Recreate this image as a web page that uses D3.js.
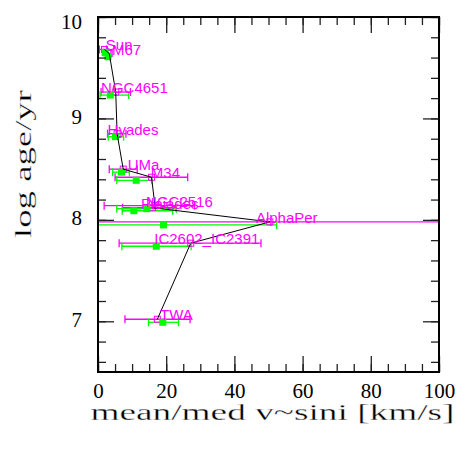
<!DOCTYPE html>
<html><head><meta charset="utf-8">
<script src="https://cdn.jsdelivr.net/npm/d3@7/dist/d3.min.js"></script>
<style>body{margin:0;background:#fff}</style>
</head><body>
<script>
// ---- data ----
const clusters = ["Sun","M67","NGC4651","Hyades","UMa","M34","NGC2516","Pleiades","AlphaPer","IC2602_IC2391","TWA"];
const logAge   = [9.65, 9.61, 9.23, 8.82, 8.47, 8.39, 8.11, 8.09, 7.95, 7.74, 6.99];
const medV     = [2.1, 2.9, 3.6, 5.1, 6.9, 11.2, 14.3, 10.5, 19.2, 17.1, 19.0];
const medLo    = [1.6, 2.4, 0.6, 3.0, 4.3, 5.5, 5.5, 7.1, -2, 7.0, 14.8];
const medHi    = [2.6, 3.4, 9.0, 7.5, 9.2, 15.8, 23.0, 21.9, 52.4, 27.3, 23.6];
const meanV    = [1.9, 3.3, 5.2, 5.6, 7.4, 15.7, 16.7, 16.0, 50.4, 27.2, 17.4];
const meanLo   = [0.4, 2.8, 0.9, 2.8, 3.3, 5.0, 1.8, 7.2, -10, 6.2, 7.9];
const meanHi   = [2.5, 3.8, 9.5, 8.2, 11.5, 26.3, 28.3, 22.9, 110, 47.8, 27.0];
const labelV   = [2.3, 4.1, 0.9, 2.8, 8.7, 15.5, 14.1, 12.6, 46.3, 16.5, 18.2];
const meanAgeShift = 0.03;
const xMajor = [0, 20, 40, 60, 80, 100];
const yMajor = [7, 8, 9, 10];
const xTitle = "mean/med v~sini [km/s]";
const yTitle = "log age/yr";

// ---- layout ----
const W = 467, H = 452;
const L = 98, R = 439, T = 17, B = 372;
const x = d3.scaleLinear().domain([0, 100]).range([L, R]);
const y = d3.scaleLinear().domain([6.5, 10]).range([B, T]);
const xMinor = d3.range(0, 100.001, 5);
const yMinor = d3.range(6.6, 10.001, 0.2).map(v => +v.toFixed(1));

const svg = d3.select("body").append("svg").attr("width", W).attr("height", H);
svg.append("defs").append("clipPath").attr("id", "clip")
  .append("rect").attr("x", L).attr("y", T).attr("width", R - L).attr("height", B - T);

const rows = clusters.map((c, i) => ({
  name: c, age: logAge[i], mAge: logAge[i] + meanAgeShift,
  med: medV[i], mlo: medLo[i], mhi: medHi[i],
  mean: meanV[i], elo: meanLo[i], ehi: meanHi[i], lab: labelV[i]
}));

const plot = svg.append("g").attr("clip-path", "url(#clip)");
const cap = 4;
function errbars(g, lo, hi, ykey, color) {
  const gg = g.append("g").attr("stroke", color).attr("stroke-width", 1.3).attr("fill", "none");
  rows.forEach(d => {
    const yy = y(d[ykey]);
    gg.append("line").attr("x1", x(d[lo])).attr("x2", x(d[hi])).attr("y1", yy).attr("y2", yy);
    gg.append("line").attr("x1", x(d[lo])).attr("x2", x(d[lo])).attr("y1", yy - cap).attr("y2", yy + cap);
    gg.append("line").attr("x1", x(d[hi])).attr("x2", x(d[hi])).attr("y1", yy - cap).attr("y2", yy + cap);
  });
}
errbars(plot, "elo", "ehi", "mAge", "#ff00ff");
errbars(plot, "mlo", "mhi", "age", "#00ff00");

// mean markers (open squares)
plot.append("g").selectAll("rect").data(rows).join("rect")
  .attr("x", d => x(d.mean) - 3).attr("y", d => y(d.mAge) - 3)
  .attr("width", 6).attr("height", 6)
  .attr("fill", "none").attr("stroke", "#ff00ff").attr("stroke-width", 1);

// median markers
plot.append("g").selectAll("rect").data(rows).join("rect")
  .attr("x", d => x(d.med) - 3.5).attr("y", d => y(d.age) - 3.5)
  .attr("width", 7).attr("height", 7).attr("fill", "#00ff00");

// connecting line through means
const line = d3.line().x(d => x(d.mean)).y(d => y(d.mAge));
plot.append("path").datum(rows).attr("d", line)
  .attr("fill", "none").attr("stroke", "#000").attr("stroke-width", 1);

// labels
svg.append("g").selectAll("text").data(rows).join("text")
  .attr("x", d => x(d.lab)).attr("y", d => y(d.mAge) + 1)
  .attr("fill", "#ff00ff").attr("font-family", "Liberation Sans, Arial, sans-serif")
  .attr("font-size", 15).text(d => d.name);

// ---- axes ----
function styleAxis(g) {
  g.select(".domain").remove();
  g.selectAll(".tick line").attr("stroke", "#222").attr("stroke-width", 1.3);
}
const serif = "Liberation Serif, Times New Roman, serif";
// bottom
svg.append("g").attr("transform", `translate(0,${B})`)
  .call(d3.axisBottom(x).tickValues(xMinor).tickSize(-8).tickFormat(""))
  .call(styleAxis);
const bx = svg.append("g").attr("transform", `translate(0,${B})`)
  .call(d3.axisBottom(x).tickValues(xMajor).tickSize(-16).tickFormat(d3.format("d")))
  .call(styleAxis);
bx.selectAll("text").attr("y", 26).attr("dy", 0)
  .attr("font-family", serif).attr("font-size", 21).attr("fill", "#000");
// top
svg.append("g").attr("transform", `translate(0,${T})`)
  .call(d3.axisTop(x).tickValues(xMinor).tickSize(-8).tickFormat("")).call(styleAxis);
svg.append("g").attr("transform", `translate(0,${T})`)
  .call(d3.axisTop(x).tickValues(xMajor).tickSize(-16).tickFormat("")).call(styleAxis);
// left
svg.append("g").attr("transform", `translate(${L},0)`)
  .call(d3.axisLeft(y).tickValues(yMinor).tickSize(-8).tickFormat("")).call(styleAxis);
const ly = svg.append("g").attr("transform", `translate(${L},0)`)
  .call(d3.axisLeft(y).tickValues(yMajor).tickSize(-16).tickFormat(d3.format("d")))
  .call(styleAxis);
ly.selectAll("text").attr("x", -16).attr("dy", 0)
  .attr("y", d => Math.max(5, T + 11 - y(d)))
  .attr("font-family", serif).attr("font-size", 21).attr("fill", "#000");
// right
svg.append("g").attr("transform", `translate(${R},0)`)
  .call(d3.axisRight(y).tickValues(yMinor).tickSize(-8).tickFormat("")).call(styleAxis);
svg.append("g").attr("transform", `translate(${R},0)`)
  .call(d3.axisRight(y).tickValues(yMajor).tickSize(-16).tickFormat("")).call(styleAxis);

// frame
svg.append("rect").attr("x", L).attr("y", T).attr("width", R - L).attr("height", B - T)
  .attr("fill", "none").attr("stroke", "#000").attr("stroke-width", 2);

// titles
svg.append("text").attr("x", 272.5).attr("y", 420).attr("text-anchor", "middle")
  .attr("font-family", serif).attr("font-size", 24)
  .attr("stroke", "#fff").attr("stroke-width", 0.3)
  .attr("textLength", 364).attr("lengthAdjust", "spacingAndGlyphs").text(xTitle);
svg.append("text").attr("transform", "translate(31,164) rotate(-90)").attr("text-anchor", "middle")
  .attr("font-family", serif).attr("font-size", 24)
  .attr("stroke", "#fff").attr("stroke-width", 0.3)
  .attr("textLength", 148).attr("lengthAdjust", "spacingAndGlyphs").text(yTitle);
</script>
</body></html>
